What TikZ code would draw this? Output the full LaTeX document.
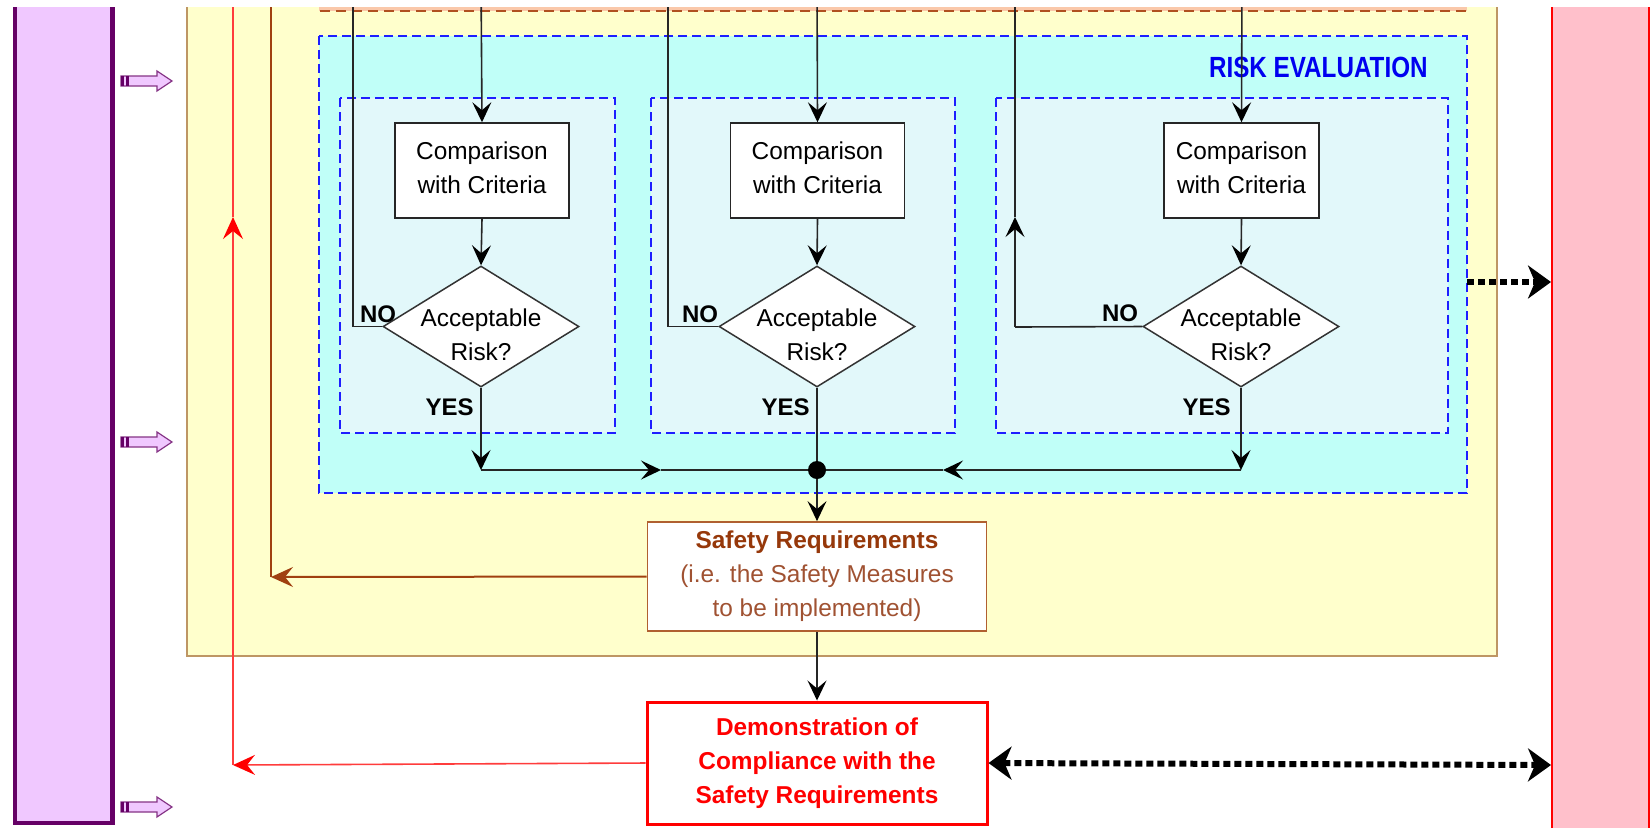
\documentclass[tikz,border=0pt]{standalone}
\usepackage{fontspec}
\setmainfont{Liberation Sans}
\usepackage{graphicx}
\usetikzlibrary{arrows.meta,shapes.geometric}

\definecolor{purplefill}{RGB}{240,200,255}
\definecolor{purpleborder}{RGB}{102,0,102}
\definecolor{yellowfill}{RGB}{255,255,204}
\definecolor{yellowborder}{RGB}{190,150,100}
\definecolor{orangefill}{RGB}{250,200,170}
\definecolor{orangedash}{RGB}{176,80,32}
\definecolor{cyanfill}{RGB}{192,255,248}
\definecolor{innerfill}{RGB}{226,248,250}
\definecolor{bluedash}{RGB}{30,30,255}
\definecolor{riskblue}{RGB}{0,0,240}
\definecolor{pinkfill}{RGB}{255,192,203}
\definecolor{brownbold}{RGB}{150,56,10}
\definecolor{brownlight}{RGB}{160,82,50}
\definecolor{brownborder}{RGB}{176,96,48}
\definecolor{brownline}{RGB}{160,64,16}
\definecolor{redline}{RGB}{255,60,60}

\tikzset{
  txt/.style={font=\fontsize{12.2pt}{17pt}\selectfont, align=center},
  lbl/.style={font=\fontsize{12pt}{14pt}\selectfont\bfseries, inner sep=0pt},
  cmpbox/.style={draw=black!85, line width=0.75pt, fill=white, minimum width=87pt, minimum height=47.5pt, inner sep=0pt},
  diabox/.style={diamond, draw=black!80, line width=0.75pt, fill=white, minimum width=98pt, minimum height=60.5pt, inner sep=0pt},
  blk/.style={line width=0.8pt, draw=black!85},
  arr/.style={blk, -{Stealth[length=10pt,width=9.5pt,inset=4pt,color=black]}},
  redarr/.style={line width=0.8pt, draw=redline, -{Stealth[length=11pt,width=10pt,inset=4pt,color=red]}},
  brownarr/.style={line width=1pt, draw=brownline, -{Stealth[length=11pt,width=10pt,inset=4pt,color=brownline]}},
  dotted arrow/.style={line width=3pt, dash pattern=on 3.5pt off 2pt, -{Stealth[length=11.5pt,width=16.5pt,inset=3.5pt]}},
  dotted double/.style={line width=3pt, dash pattern=on 3.5pt off 2pt, {Stealth[length=11.5pt,width=16.5pt,inset=3.5pt]}-{Stealth[length=11.5pt,width=16.5pt,inset=3.5pt]}},
  bluebox/.style={fill=innerfill, draw=bluedash, line width=1pt, dash pattern=on 4.5pt off 2.5pt},
  purparrow/.pic={
    \filldraw[fill=purplefill, draw=purpleborder!80, line width=0.6pt]
      (0,-5) -- (36,-5) -- (36,-10) -- (51,0) -- (36,10) -- (36,5) -- (0,5) -- cycle;
    \fill[purpleborder] (0,-5) rectangle (3,5);
    \fill[purpleborder] (5,-5) rectangle (7.5,5);
  }
}

\begin{document}
\begin{tikzpicture}[x=0.5pt,y=-0.5pt]
\useasboundingbox (0,0) rectangle (1652,827);
\fill[white] (0,0) rectangle (1652,827);
\begin{scope}
\clip (0,7) rectangle (1652,827);

% ---------- background regions ----------
\filldraw[fill=purplefill, draw=purpleborder, line width=2.2pt] (15,-20) rectangle (112.5,823);
\filldraw[fill=yellowfill, draw=yellowborder, line width=0.75pt] (187,-20) rectangle (1497,656);
\filldraw[fill=orangefill, draw=orangedash, line width=0.9pt, dash pattern=on 5pt off 3pt] (319,-20) rectangle (1467,11);
\filldraw[fill=cyanfill, draw=bluedash, line width=1pt, dash pattern=on 4.5pt off 2.5pt] (319,36) rectangle (1467,493);
\filldraw[bluebox] (340,98) rectangle (615,433);
\filldraw[bluebox] (651,98) rectangle (955,433);
\filldraw[bluebox] (996,98) rectangle (1448,433);
\filldraw[fill=pinkfill, draw=red, line width=1pt] (1552,-20) rectangle (1648.5,840);

\node[anchor=east, text=riskblue, font=\fontsize{14.6pt}{16pt}\selectfont\bfseries, inner sep=0pt] (risk) at (1428,67) {\scalebox{0.83}[1]{RISK EVALUATION}};

% small purple arrows
\pic at (121,81) {purparrow};
\pic at (121,442) {purparrow};
\pic at (121,807) {purparrow};

% ---------- nodes ----------
\node[cmpbox] (c1) at (482,170.5) {};
\node[cmpbox] (c2) at (817.5,170.5) {};
\node[cmpbox, minimum width=77.5pt] (c3) at (1241.5,170.5) {};
\node[txt] (ct1) at (482,168) {Comparison\\with Criteria};
\node[txt] (ct2) at (817.5,168) {Comparison\\with Criteria};
\node[txt] (ct3) at (1241.5,168) {Comparison\\with Criteria};

\node[diabox] (d1) at (481,326.5) {};
\node[diabox] (d2) at (817,326.5) {};
\node[diabox] (d3) at (1241,326.5) {};
\node[txt] (t1) at (481,335) {Acceptable\\Risk?};
\node[txt] (t2) at (817,335) {Acceptable\\Risk?};
\node[txt] (t3) at (1241,335) {Acceptable\\Risk?};

\node[circle, fill=black, minimum size=9pt, inner sep=0pt] (dot) at (817,470) {};

\node[draw=brownborder, line width=0.9pt, fill=white, minimum width=169.5pt, minimum height=54.5pt, inner sep=0pt, txt] (sr) at (817,576.5)
  {\textcolor{brownbold}{\bfseries Safety Requirements}\\\textcolor{brownlight}{(i.e. the Safety Measures}\\\textcolor{brownlight}{to be implemented)}};

\node[draw=red, line width=1.5pt, fill=white, minimum width=170pt, minimum height=61pt, inner sep=0pt, txt, text=red, font=\fontsize{12.2pt}{17pt}\selectfont\bfseries] (dm) at (817,763)
  {Demonstration of\\Compliance with the\\Safety Requirements};

% ---------- coordinates ----------
\coordinate (in1) at (481,-20);
\coordinate (in2) at (817,-20);
\coordinate (in3) at (1242,-20);
\coordinate (no1) at (353,-20);
\coordinate (no2) at (668,-20);
\coordinate (no3) at (1015,-20);
\coordinate (no3c) at (1015,327);
\coordinate (no3a) at (1015,217);
\coordinate (j1) at (481,470);
\coordinate (j3) at (1241,470);
\coordinate (m1) at (661,470);
\coordinate (m3) at (943,470);
\coordinate (b1) at (271,577);
\coordinate (btop) at (271,-20);
\coordinate (r1) at (233,765);
\coordinate (r2) at (233,217);
\coordinate (rtop) at (233,-20);
\coordinate (ce) at (1467,282);
\coordinate (pw1) at (1551,282);
\coordinate (pw2) at (1551,765);

% ---------- connectors ----------
\draw[arr] (in1) -- (c1.north);
\draw[arr] (in2) -- (c2.north);
\draw[arr] (in3) -- (c3.north);
\draw[arr] (c1.south) -- (d1.north);
\draw[arr] (c2.south) -- (d2.north);
\draw[arr] (c3.south) -- (d3.north);

\draw[blk] (d1.west) -| (no1);
\draw[blk] (d2.west) -| (no2);
\draw[blk] (d3.west) -- (no3c);
\draw[arr] (no3c) -- (no3a);
\draw[blk] (no3a) -- (no3);

\draw[arr] (d1.south) -- (j1);
\draw[arr] (d3.south) -- (j3);
\draw[blk] (d2.south) -- (dot);
\draw[arr] (j1) -- (m1);
\draw[blk] (m1) -- (dot);
\draw[arr] (j3) -- (m3);
\draw[blk] (m3) -- (dot);
\draw[arr] (dot) -- (sr.north);
\draw[arr] (sr.south) -- (dm.north);

\draw[brownarr] (sr.west) -- (b1);
\draw[line width=1pt, draw=brownline] (b1) -- (btop);

\draw[redarr] (dm.west) -- (r1);
\draw[redarr] (r1) -- (r2);
\draw[line width=0.8pt, draw=redline] (r2) -- (rtop);

\draw[dotted arrow] (ce) -- (pw1);
\draw[dotted double] (dm.east) -- (pw2);

% ---------- labels ----------
\node[lbl] (no1l) at (378,314) {NO};
\node[lbl] (no2l) at (700,314) {NO};
\node[lbl] (no3l) at (1120,313) {NO};
\node[lbl, anchor=east] (y1l) at (474,407) {YES};
\node[lbl, anchor=east] (y2l) at (810,407) {YES};
\node[lbl, anchor=east] (y3l) at (1231,407) {YES};

\end{scope}
\end{tikzpicture}
\end{document}
